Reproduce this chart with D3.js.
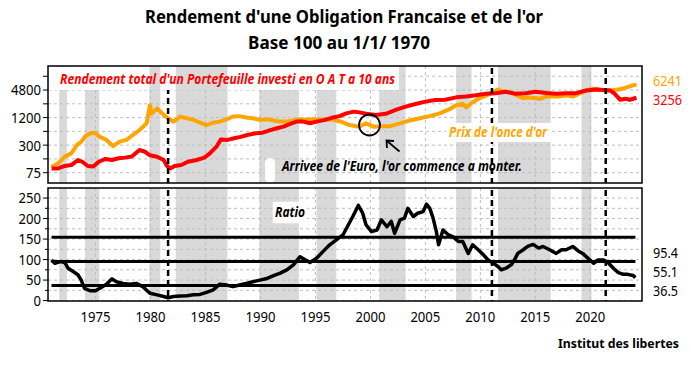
<!DOCTYPE html>
<html><head><meta charset="utf-8">
<script src="https://cdn.jsdelivr.net/npm/d3@7"></script>
<style>
body{margin:0;background:#fff;}
svg{display:block;}
text{font-family:"Noto Sans","Open Sans",sans-serif;}
</style></head>
<body><svg id="c" width="691" height="365"></svg>
<script>
// ---- DATA ----
const goldYears = [1971.0,1971.6,1972.2,1972.8,1973.3,1973.7,1974.1,1974.5,1974.95,1975.4,1976.0,1976.6,1977.2,1977.8,1978.4,1979.0,1979.65,1979.95,1980.1,1980.6,1981.2,1981.6,1982.1,1982.7,1983.3,1983.9,1984.5,1985.1,1985.7,1986.3,1986.9,1987.5,1988.1,1988.7,1989.3,1989.95,1990.6,1991.2,1991.8,1992.4,1993.0,1993.6,1994.2,1994.8,1995.4,1996.0,1996.6,1997.2,1998.1,1999.0,1999.6,2000.3,2000.9,2001.8,2002.7,2003.6,2004.5,2005.4,2006.3,2007.2,2007.8,2008.4,2008.7,2009.3,2009.95,2010.6,2011.2,2011.6,2012.1,2012.7,2013.3,2013.9,2014.5,2015.4,2016.0,2016.6,2017.2,2017.8,2018.4,2019.0,2019.65,2020.3,2020.9,2021.5,2022.1,2022.7,2023.3,2023.9,2024.2];
const goldValues = [100,120,168,198,300,356,475,540,560,455,390,287,357,390,500,640,900,2240,1480,1910,1370,1160,975,1260,1160,1070,930,825,930,980,1100,1260,1290,1210,1160,1070,1100,1040,980,980,1040,1100,1070,1100,1070,1100,1070,1000,825,760,900,760,780,780,900,1040,1160,1290,1480,1830,2240,2400,2000,2600,3200,3680,4400,4960,4400,4400,3680,3200,3300,3100,3450,3450,3450,3680,3450,4000,4700,5200,4800,4700,4800,5000,5500,6100,6241];

const oatYears = [1971.0,1971.6,1972.2,1972.8,1973.4,1973.8,1974.3,1974.8,1975.3,1975.9,1976.5,1977.1,1977.7,1978.3,1979.0,1979.5,1979.95,1980.6,1981.2,1981.5,1981.8,1982.2,1982.8,1983.4,1984.2,1984.9,1985.4,1986.0,1986.4,1987.0,1987.6,1988.2,1988.8,1989.6,1990.2,1990.9,1991.5,1992.1,1992.7,1993.3,1993.9,1994.5,1995.1,1995.9,1996.6,1997.2,1997.8,1998.5,1999.0,1999.6,2000.5,2001.4,2002.3,2003.2,2004.1,2005.0,2005.9,2006.8,2007.8,2008.7,2009.6,2010.5,2011.4,2012.3,2013.2,2014.1,2015.0,2016.0,2016.9,2017.8,2018.7,2019.6,2020.6,2021.2,2021.8,2022.2,2022.7,2023.2,2023.6,2024.2];
const oatValues = [93,93,105,110,142,130,105,102,130,150,142,155,160,170,235,215,180,167,142,105,93,105,110,130,142,160,198,277,400,390,425,455,500,545,560,640,700,760,870,980,980,900,980,1070,1210,1290,1480,1620,1560,1450,1370,1450,1760,2080,2380,2680,2900,2950,3320,3450,3680,4000,4100,4400,4000,4100,4400,4150,4000,4100,4100,4700,4960,4800,4700,4000,2950,3100,2950,3256];

const ratioYears = [1971.0,1971.3,1971.8,1972.2,1972.5,1972.9,1973.4,1973.7,1974.0,1974.5,1975.0,1975.4,1976.0,1976.5,1976.9,1977.5,1978.1,1978.7,1979.3,1979.95,1980.6,1981.2,1981.6,1982.1,1982.7,1983.3,1983.9,1984.5,1985.1,1985.7,1986.3,1986.9,1987.5,1988.1,1988.7,1989.3,1989.95,1990.6,1991.2,1991.8,1992.4,1993.0,1993.6,1994.1,1994.5,1995.1,1995.7,1996.3,1996.9,1997.5,1997.9,1998.4,1998.9,1999.3,1999.6,2000.1,2000.6,2001.0,2001.5,2001.9,2002.2,2002.7,2003.1,2003.4,2003.9,2004.3,2004.8,2005.1,2005.4,2005.7,2006.0,2006.2,2006.6,2007.1,2007.5,2008.0,2008.4,2008.9,2009.3,2009.8,2010.3,2010.7,2011.2,2011.6,2011.9,2012.4,2012.8,2013.1,2013.4,2013.9,2014.3,2014.8,2015.3,2015.7,2016.3,2016.9,2017.4,2017.8,2018.4,2018.9,2019.3,2019.8,2020.3,2020.7,2021.2,2021.6,2022.1,2022.5,2023.0,2023.4,2023.9,2024.1];
const ratioValues = [99,91,95,93,79,72,63,50,30,24,24,30,40,53,46,42,40,42,34,18,14,10,7,10,11,12,14,15,20,26,40,38,34,38,42,46,50,54,61,67,75,87,107,99,93,103,120,136,148,160,180,205,232,213,185,168,172,197,180,193,164,197,201,225,205,213,217,235,225,201,168,136,172,160,156,144,144,115,136,124,111,99,91,83,75,80,87,99,115,124,132,137,128,132,124,115,124,124,132,121,115,103,91,99,99,93,79,69,64,64,61,56];

const ratioRefValues = [154.3, 95.4, 36.5];
const ratioRefLabels = ["95.4", "55.1", "36.5"];
const topEndLabels = ["6241", "3256"];

const bandStarts = [1971.7,1974.05,1979.9,1982.3,1989.9,1995.1,2000.8,2007.8,2011.6,2019.2];
const bandEnds   = [1972.4,1975.35,1980.9,1987.0,1993.5,1996.9,2003.2,2009.2,2016.4,2020.1];
const eventYears = [1981.6, 2011.05, 2021.4];

const xTickYears = [1975,1980,1985,1990,1995,2000,2005,2010,2015,2020];
const topGridValues = [75,150,300,600,1200,2400,4800,9600];
const topTickLabels = [75,300,1200,4800];
const botGridValues = [0,25,50,75,100,125,150,175,200,225,250];
const botTickLabels = [0,50,100,150,200,250];

const titleLines = ["Rendement d'une Obligation Francaise et de l'or", "Base 100 au 1/1/ 1970"];

// ---- CHART ----
const svg = d3.select("#c");
const L = 48, R = 642;
const topY0 = 66, topY1 = 183, botY0 = 188, botY1 = 301;
const x = d3.scaleLinear().domain([1970.68, 2024.7]).range([L, R]);
const yT = d3.scaleLog().domain([44.6, 16100]).range([topY1, topY0]);
const yB = d3.scaleLinear().domain([-1, 274.5]).range([botY1, botY0]);

const gold = goldYears.map((t,i)=>({t, v:goldValues[i]}));
const oat = oatYears.map((t,i)=>({t, v:oatValues[i]}));
const ratio = ratioYears.map((t,i)=>({t, v:ratioValues[i]}));
const bands = bandStarts.map((s,i)=>({s, e:bandEnds[i]}));

function fit(sel, w){ sel.attr("textLength", w).attr("lengthAdjust","spacingAndGlyphs"); return sel; }

const defs = svg.append("defs");
defs.append("clipPath").attr("id","clipT").append("rect").attr("x",L).attr("y",topY0).attr("width",R-L).attr("height",topY1-topY0);
defs.append("clipPath").attr("id","clipB").append("rect").attr("x",L).attr("y",botY0).attr("width",R-L).attr("height",botY1-botY0);

function panel(y0, y1, clip){
  const g = svg.append("g").attr("clip-path", `url(#${clip})`);
  g.selectAll("rect.band").data(bands).join("rect").attr("class","band")
    .attr("x", d=>x(d.s)).attr("width", d=>x(d.e)-x(d.s))
    .attr("y", y0).attr("height", y1-y0).attr("fill","#d9d9d9");
  g.selectAll("line.vg").data(xTickYears).join("line").attr("class","vg")
    .attr("x1", d=>x(d)).attr("x2", d=>x(d)).attr("y1", y0).attr("y2", y1)
    .attr("stroke","#bdbdbd").attr("stroke-width",1).attr("stroke-dasharray","3,3");
  return g;
}

// TOP PANEL
const gT = panel(topY0, topY1, "clipT");
gT.selectAll("line.hg").data(topGridValues).join("line").attr("class","hg")
  .attr("x1", L).attr("x2", R).attr("y1", d=>yT(d)).attr("y2", d=>yT(d))
  .attr("stroke","#bdbdbd").attr("stroke-width",1).attr("stroke-dasharray","3,3");
const lineT = d3.line().x(d=>x(d.t)).y(d=>yT(d.v));
gT.append("path").datum(gold).attr("d", lineT).attr("fill","none").attr("stroke","#ffa500").attr("stroke-width",4).attr("stroke-linejoin","round");
gT.append("path").datum(oat).attr("d", lineT).attr("fill","none").attr("stroke","#ff0000").attr("stroke-width",4).attr("stroke-linejoin","round");

// annotation text (below dashed lines)
fit(svg.append("text").attr("x",282).attr("y",171).attr("font-size",15).attr("font-weight","bold").attr("font-style","italic").attr("fill","#000")
  .text("Arrivee de l'Euro, l'or commence a monter."), 240);
svg.append("rect").attr("x",265).attr("y",158).attr("width",10).attr("height",25).attr("rx",5).attr("fill","#fff");

// BOTTOM PANEL
const gB = panel(botY0, botY1, "clipB");
gB.selectAll("line.hg").data(botGridValues).join("line").attr("class","hg")
  .attr("x1", L).attr("x2", R).attr("y1", d=>yB(d)).attr("y2", d=>yB(d))
  .attr("stroke","#bdbdbd").attr("stroke-width",1).attr("stroke-dasharray","3,3");
gB.selectAll("line.ref").data(ratioRefValues).join("line").attr("class","ref")
  .attr("x1", x(ratioYears[0])).attr("x2", x(ratioYears[ratioYears.length-1]))
  .attr("y1", d=>yB(d)).attr("y2", d=>yB(d)).attr("stroke","#000").attr("stroke-width",3);
const lineB = d3.line().x(d=>x(d.t)).y(d=>yB(d.v));
gB.append("path").datum(ratio).attr("d", lineB).attr("fill","none").attr("stroke","#000").attr("stroke-width",3.5).attr("stroke-linejoin","round");

// event dashed lines
[[topY0,topY1],[botY0,botY1]].forEach(([a,b])=>{
  svg.append("g").selectAll("line").data(eventYears).join("line")
    .attr("x1", d=>x(d)).attr("x2", d=>x(d)).attr("y1", a+2).attr("y2", b)
    .attr("stroke","#000").attr("stroke-width",2.5).attr("stroke-dasharray","6,4");
});

// label box for the red series; the 1980 and 1982-87 bands show through it
const boxR = 398, boxB = topY0 + 24;
svg.append("rect").attr("x",L+1).attr("y",topY0+1).attr("width",boxR-L).attr("height",boxB-topY0-1).attr("fill","#fff");
svg.append("g").selectAll("rect").data(bands.filter(d=>x(d.s) > 140 && x(d.e) < 240)).join("rect")
  .attr("x", d=>x(d.s)).attr("width", d=>x(d.e)-x(d.s)).attr("y", topY0+1).attr("height", boxB-topY0-1).attr("fill","#d9d9d9");
fit(svg.append("text").attr("x",60).attr("y",84).attr("font-size",15).attr("font-weight","bold").attr("font-style","italic").attr("fill","#ff0000")
  .text("Rendement total d'un Portefeuille investi en O A T a 10 ans"), 335);
svg.append("rect").attr("x",446).attr("y",123).attr("width",105).attr("height",19).attr("fill","#fff");
fit(svg.append("text").attr("x",449).attr("y",137).attr("font-size",15).attr("font-weight","bold").attr("font-style","italic").attr("fill","#ffa500")
  .text("Prix de l'once d'or"), 98);
svg.append("rect").attr("x",272.7).attr("y",201.7).attr("width",34).attr("height",21.6).attr("fill","#fff");
fit(svg.append("text").attr("x",275).attr("y",217).attr("font-size",15).attr("font-weight","bold").attr("font-style","italic").attr("fill","#000")
  .text("Ratio"), 30);

// circle + arrow
svg.append("circle").attr("cx",369.5).attr("cy",125).attr("r",10.5).attr("fill","none").attr("stroke","#000").attr("stroke-width",1.8);
svg.append("line").attr("x1",399.5).attr("y1",151.5).attr("x2",387).attr("y2",141).attr("stroke","#000").attr("stroke-width",1.8);
svg.append("path").attr("d","M387,148 L386.5,140.5 L394,141").attr("fill","none").attr("stroke","#000").attr("stroke-width",1.8);

// frames
[[topY0,topY1],[botY0,botY1]].forEach(([a,b])=>{
  svg.append("rect").attr("x",L).attr("y",a).attr("width",R-L).attr("height",b-a).attr("fill","none").attr("stroke","#000").attr("stroke-width",1.5);
});

// axes
const axT = svg.append("g");
axT.selectAll("line").data(topGridValues).join("line").attr("x1",L-5).attr("x2",L).attr("y1",d=>yT(d)).attr("y2",d=>yT(d)).attr("stroke","#000").attr("stroke-width",1);
axT.selectAll("text").data(topTickLabels).join("text").attr("x",41).attr("y",d=>yT(d)).attr("dy","0.36em").attr("text-anchor","end").attr("font-size",15)
  .attr("textLength",d=>String(d).length*7.5).attr("lengthAdjust","spacingAndGlyphs").text(d=>d);
const axB = svg.append("g");
axB.selectAll("line").data(botGridValues).join("line").attr("x1",d=>botTickLabels.includes(d)?L-5:L-3).attr("x2",L).attr("y1",d=>yB(d)).attr("y2",d=>yB(d)).attr("stroke","#000").attr("stroke-width",1);
axB.selectAll("text").data(botTickLabels).join("text").attr("x",41).attr("y",d=>yB(d)).attr("dy","0.36em").attr("text-anchor","end").attr("font-size",15)
  .attr("textLength",d=>String(d).length*7.5).attr("lengthAdjust","spacingAndGlyphs").text(d=>d);
const axX = svg.append("g");
axX.selectAll("text").data(xTickYears).join("text").attr("x",d=>x(d)).attr("y",322).attr("text-anchor","middle").attr("font-size",15)
  .attr("textLength",30).attr("lengthAdjust","spacingAndGlyphs").text(d=>d);

// right labels
svg.selectAll("text.endT").data(topEndLabels).join("text").attr("class","endT")
  .attr("x",653).attr("y",(d,i)=>[86,105][i]).attr("font-size",15).attr("fill",(d,i)=>["#ffa500","#ff0000"][i])
  .attr("textLength",29).attr("lengthAdjust","spacingAndGlyphs").text(d=>d);
svg.selectAll("text.endB").data(ratioRefLabels).join("text").attr("class","endB")
  .attr("x",653).attr("y",(d,i)=>[258,277,296][i]).attr("font-size",14).attr("fill","#000")
  .attr("textLength",25).attr("lengthAdjust","spacingAndGlyphs").text(d=>d);

// title + source
const titleW = [398, 182];
svg.selectAll("text.title").data(titleLines).join("text").attr("class","title")
  .attr("x",(d,i)=>[145,248][i]).attr("y",(d,i)=>[23,49][i]).attr("font-size",18).attr("font-weight","bold")
  .attr("textLength",(d,i)=>titleW[i]).attr("lengthAdjust","spacingAndGlyphs").text(d=>d);
fit(svg.append("text").attr("x",679).attr("y",348).attr("text-anchor","end").attr("font-size",13).attr("font-weight","bold").text("Institut des libertes"), 121);
</script></body></html>
